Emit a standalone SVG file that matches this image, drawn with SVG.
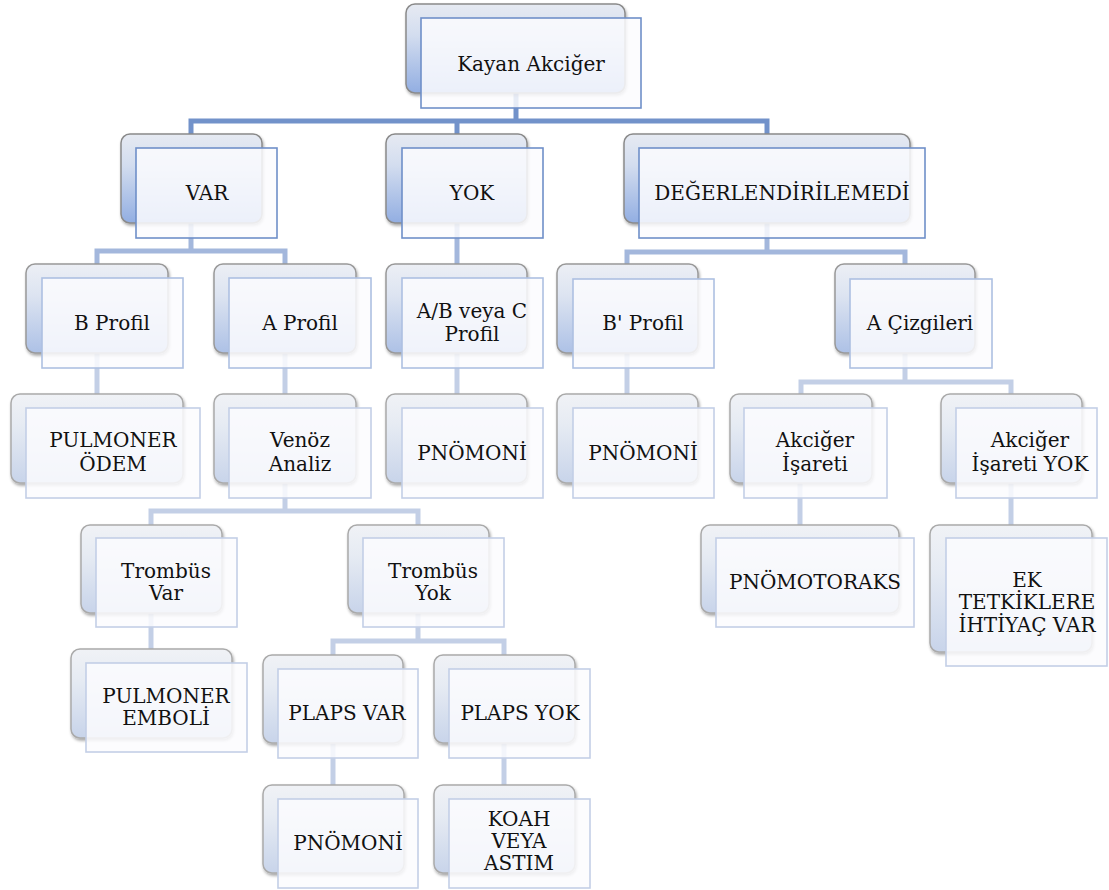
<svg xmlns="http://www.w3.org/2000/svg" width="1109" height="890" viewBox="0 0 1109 890">
<defs>
<linearGradient id="g0" x1="0" y1="0" x2="0" y2="1"><stop offset="0" stop-color="#e6eaf2"/><stop offset="0.35" stop-color="#d3ddef"/><stop offset="1" stop-color="#92aee2"/></linearGradient>
<linearGradient id="g1" x1="0" y1="0" x2="0" y2="1"><stop offset="0" stop-color="#eceff5"/><stop offset="0.35" stop-color="#dde4f1"/><stop offset="1" stop-color="#adc1e6"/></linearGradient>
<linearGradient id="g2" x1="0" y1="0" x2="0" y2="1"><stop offset="0" stop-color="#f0f2f6"/><stop offset="0.35" stop-color="#e6ebf3"/><stop offset="1" stop-color="#c8d4ea"/></linearGradient>
<filter id="sh" x="-10%" y="-10%" width="125%" height="130%"><feDropShadow dx="1" dy="2" stdDeviation="1.5" flood-color="#000" flood-opacity="0.35"/></filter>
</defs>
<style>
.b0{fill:url(#g0);stroke:#8a8a8a;stroke-width:1.5;filter:url(#sh)}
.b1{fill:url(#g1);stroke:#999;stroke-width:1.5;filter:url(#sh)}
.b2{fill:url(#g2);stroke:#aaa;stroke-width:1.5;filter:url(#sh)}
.f0{fill:#fbfcfe;fill-opacity:0.85;stroke:#6f8fc9;stroke-width:1.6}
.f1{fill:#fbfcfe;fill-opacity:0.85;stroke:#adc0e2;stroke-width:1.6}
.f2{fill:#fbfcfe;fill-opacity:0.85;stroke:#c3cfe7;stroke-width:1.6}
.c0{fill:none;stroke:#7292ca;stroke-width:5}
.c1{fill:none;stroke:#a3b7dc;stroke-width:5}
.c2{fill:none;stroke:#c3cfe6;stroke-width:5}
text{font-family:"DejaVu Serif","Liberation Serif",serif;font-size:20px;fill:#111;text-anchor:middle}
</style>
<g id="connectors">
<path class="c0" d="M516,92 V121 M191,134 V121 H767 V134 M457,121 V134"/>
<path class="c1" d="M191,223 V251 M97,264 V251 H285 V264"/>
<path class="c1" d="M457,223 V264"/>
<path class="c1" d="M767,223 V252 M627,264 V252 H905 V264"/>
<path class="c2" d="M97,353 V394"/>
<path class="c2" d="M285,353 V394"/>
<path class="c2" d="M457,353 V394"/>
<path class="c2" d="M627,353 V394"/>
<path class="c2" d="M905,353 V382 M801,394 V382 H1011 V394"/>
<path class="c2" d="M285,483 V511 M151,525 V511 H418 V525"/>
<path class="c2" d="M151,613 V649"/>
<path class="c2" d="M418,613 V641 M333,655 V641 H504 V655"/>
<path class="c2" d="M333,743 V785"/>
<path class="c2" d="M504,743 V785"/>
<path class="c2" d="M800,483 V525"/>
<path class="c2" d="M1011,483 V525"/>
</g>
<g id="n-kayan"><rect class="b0" x="406" y="4" width="219" height="89" rx="9"/><rect class="f0" x="421" y="18" width="220" height="90"/><text x="531" y="71">Kayan Akciğer</text></g>
<g id="n-var"><rect class="b0" x="121" y="134" width="141" height="89" rx="9"/><rect class="f0" x="136" y="148" width="141" height="90"/><text x="207" y="200">VAR</text></g>
<g id="n-yok"><rect class="b0" x="386" y="134" width="141" height="89" rx="9"/><rect class="f0" x="402" y="148" width="141" height="90"/><text x="472" y="200">YOK</text></g>
<g id="n-deg"><rect class="b0" x="624" y="134" width="286" height="89" rx="9"/><rect class="f0" x="639" y="148" width="286" height="90"/><text x="782" y="200">DEĞERLENDİRİLEMEDİ</text></g>
<g id="n-bprofil"><rect class="b1" x="26" y="264" width="142" height="89" rx="9"/><rect class="f1" x="42" y="278" width="141" height="90"/><text x="112" y="330">B Profil</text></g>
<g id="n-aprofil"><rect class="b1" x="214" y="264" width="142" height="89" rx="9"/><rect class="f1" x="229" y="278" width="142" height="90"/><text x="300" y="330">A Profil</text></g>
<g id="n-abc"><rect class="b1" x="386" y="264" width="141" height="89" rx="9"/><rect class="f1" x="402" y="278" width="141" height="90"/><text x="472" y="318">A/B veya C</text><text x="472" y="341">Profil</text></g>
<g id="n-bpprofil"><rect class="b1" x="557" y="264" width="141" height="89" rx="9"/><rect class="f1" x="573" y="279" width="141" height="89"/><text x="643" y="330">B' Profil</text></g>
<g id="n-acizgi"><rect class="b1" x="835" y="264" width="140" height="89" rx="9"/><rect class="f1" x="850" y="279" width="142" height="89"/><text x="920" y="330">A Çizgileri</text></g>
<g id="n-podem"><rect class="b2" x="11" y="394" width="172" height="89" rx="9"/><rect class="f2" x="26" y="408" width="174" height="90"/><text x="113" y="447">PULMONER</text><text x="113" y="471">ÖDEM</text></g>
<g id="n-venoz"><rect class="b2" x="214" y="394" width="142" height="89" rx="9"/><rect class="f2" x="229" y="408" width="142" height="90"/><text x="300" y="447">Venöz</text><text x="300" y="471">Analiz</text></g>
<g id="n-pnomoni1"><rect class="b2" x="386" y="394" width="141" height="89" rx="9"/><rect class="f2" x="402" y="408" width="141" height="90"/><text x="472" y="460">PNÖMONİ</text></g>
<g id="n-pnomoni2"><rect class="b2" x="557" y="394" width="141" height="89" rx="9"/><rect class="f2" x="573" y="408" width="141" height="90"/><text x="643" y="460">PNÖMONİ</text></g>
<g id="n-akcisaret"><rect class="b2" x="730" y="394" width="142" height="89" rx="9"/><rect class="f2" x="744" y="408" width="143" height="90"/><text x="815" y="447">Akciğer</text><text x="815" y="471">İşareti</text></g>
<g id="n-akcyok"><rect class="b2" x="941" y="394" width="141" height="89" rx="9"/><rect class="f2" x="956" y="408" width="141" height="90"/><text x="1030" y="447">Akciğer</text><text x="1030" y="471">İşareti YOK</text></g>
<g id="n-tvar"><rect class="b2" x="81" y="525" width="141" height="88" rx="9"/><rect class="f2" x="96" y="538" width="141" height="89"/><text x="166" y="578">Trombüs</text><text x="166" y="600">Var</text></g>
<g id="n-tyok"><rect class="b2" x="348" y="525" width="141" height="88" rx="9"/><rect class="f2" x="363" y="538" width="141" height="89"/><text x="433" y="578">Trombüs</text><text x="433" y="600">Yok</text></g>
<g id="n-pnomotoraks"><rect class="b2" x="701" y="525" width="198" height="88" rx="9"/><rect class="f2" x="716" y="538" width="198" height="89"/><text x="815" y="589">PNÖMOTORAKS</text></g>
<g id="n-ek"><rect class="b2" x="930" y="525" width="162" height="127" rx="9"/><rect class="f2" x="946" y="538" width="161" height="128"/><text x="1027" y="587">EK</text><text x="1027" y="609">TETKİKLERE</text><text x="1027" y="632">İHTİYAÇ VAR</text></g>
<g id="n-pemboli"><rect class="b2" x="71" y="649" width="161" height="89" rx="9"/><rect class="f2" x="86" y="663" width="161" height="89"/><text x="166" y="703">PULMONER</text><text x="166" y="725">EMBOLİ</text></g>
<g id="n-plapsvar"><rect class="b2" x="263" y="655" width="140" height="88" rx="9"/><rect class="f2" x="278" y="669" width="140" height="89"/><text x="347" y="720">PLAPS VAR</text></g>
<g id="n-plapsyok"><rect class="b2" x="434" y="655" width="141" height="88" rx="9"/><rect class="f2" x="449" y="669" width="141" height="89"/><text x="520" y="720">PLAPS YOK</text></g>
<g id="n-pnomoni3"><rect class="b2" x="263" y="785" width="141" height="88" rx="9"/><rect class="f2" x="278" y="799" width="140" height="89"/><text x="348" y="850">PNÖMONİ</text></g>
<g id="n-koah"><rect class="b2" x="434" y="785" width="141" height="88" rx="9"/><rect class="f2" x="449" y="799" width="141" height="89"/><text x="519" y="826" font-size="18">KOAH</text><text x="519" y="848" font-size="18">VEYA</text><text x="519" y="870" font-size="18">ASTIM</text></g>
</svg>
